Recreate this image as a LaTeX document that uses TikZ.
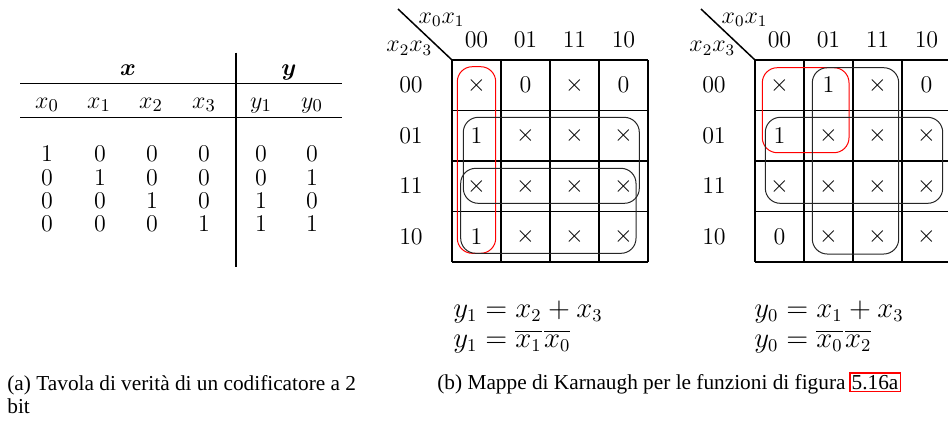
\documentclass[tikz,border=0pt]{standalone}
\usepackage{amsmath}
\usepackage{fontspec}
\newfontfamily\capfont{Liberation Serif}

% One Karnaugh map: #1 = name prefix, #2 = left edge of the grid, #3 = cell rows
\newcommand\kmapgrid[3]{%
  \begin{scope}[shift={(#2,60)}]
    \foreach \i in {0,...,4} {
      \draw[gridline] (\i*49,0) -- (\i*49,202);
      \draw[gridline] (0,\i*50.5) -- (196,\i*50.5);
    }
    \coordinate (#1-corner) at (0,0);
    \coordinate (#1-diag) at (-54,-51);
    \draw[gridline] (#1-diag) -- (#1-corner);
    \node[kmtxt, anchor=base west] (#1-top) at (-33.7,-36.7) {$x_0x_1$};
    \node[kmtxt, anchor=base west] (#1-side) at (-66,-8.3) {$x_2x_3$};
    \foreach \h [count=\k from 0] in {00,01,11,10} {
      \node[kmtxt] (#1-c\k) at (24.5+\k*49,-20) {$\h$};
      \node[kmtxt] (#1-r\k) at (-41,25.25+\k*50.5) {$\h$};
    }
    \foreach \row [count=\r from 0] in {#3} {
      \foreach \v [count=\c from 0] in \row
        \node[kmtxt] (#1-\r-\c) at (24.5+\c*49,25.25+\r*50.5) {$\v$};
    }
  \end{scope}}

% complemented variable
\newcommand\cmpl[1]{\overline{#1}\mkern1.5mu}

\begin{document}
\begin{tikzpicture}[x=0.5pt,y=-0.5pt,
  tabtxt/.style={font=\fontsize{12.5}{15}\selectfont, inner sep=0pt, anchor=base},
  kmtxt/.style={font=\fontsize{12}{14.4}\selectfont, inner sep=0pt},
  eqtxt/.style={font=\fontsize{13.35}{16}\selectfont, inner sep=0pt, anchor=base west},
  captxt/.style={font=\capfont\fontsize{10.65}{12.8}\selectfont, inner sep=0pt, anchor=base west},
  rule/.style={line width=0.65pt},
  gridline/.style={line width=0.75pt},
  grp/.style={draw=black!85, line width=0.5pt, rounded corners=7.5pt},
  redgrp/.style={draw=red, line width=0.5pt, rounded corners=7.5pt},
]
\useasboundingbox (0,0) rectangle (948,420);
\clip (0,0) rectangle (948,420);

% ---- truth table ----
\node[tabtxt] (hx) at (128,75) {$\boldsymbol{x}$};
\node[tabtxt] (hy) at (289,75) {$\boldsymbol{y}$};
\foreach \lab/\px [count=\i] in {x_0/47, x_1/99, x_2/151, x_3/204, y_1/261, y_0/312}
  \node[tabtxt] (lab\i) at (\px,108) {$\lab$};
\foreach \row [count=\r] in {{1,0,0,0,0,0},{0,1,0,0,0,1},{0,0,1,0,1,0},{0,0,0,1,1,1}} {
  \foreach \v [count=\c] in \row {
    \pgfmathsetmacro\px{{47,100,152,204,261,312}[\c-1]}
    \pgfmathsetmacro\py{161.7+23.3*(\r-1)}
    \node[tabtxt] (d\r-\c) at (\px,\py) {$\v$};
  }
}
\draw[rule] (20,83.3) -- (342,83.3);
\draw[rule] (20,117.3) -- (342,117.3);
\draw[rule] (236,52.7) -- (236,267);

% ---- Karnaugh maps ----
\kmapgrid{L}{452}{{\times,0,\times,0},{1,\times,\times,\times},{\times,\times,\times,\times},{1,\times,\times,\times}}
\kmapgrid{R}{755}{{\times,1,\times,0},{1,\times,\times,\times},{\times,\times,\times,\times},{0,\times,\times,\times}}

% groupings, map y1
\draw[redgrp] (457.3,66.7) rectangle (495.7,253.3);
\draw[grp] (463.3,117.3) rectangle (639.3,203.3);
\draw[grp] (460.7,168.3) rectangle (636,253.3);
% groupings, map y0
\draw[redgrp] (762.3,67.7) rectangle (849,152.7);
\draw[grp] (812.3,67.7) rectangle (898.7,254);
\draw[grp] (765.3,117.3) rectangle (942.7,203.3);

% ---- minimised expressions ----
\node[eqtxt] (eq1) at (453,317.5) {$y_1 = x_2 + x_3$};
\node[eqtxt] (eq2) at (453,347.5) {$y_1 = \cmpl{x_1}\cmpl{x_0}$};
\node[eqtxt] (eq3) at (754,317.5) {$y_0 = x_1 + x_3$};
\node[eqtxt] (eq4) at (754,347.5) {$y_0 = \cmpl{x_0}\cmpl{x_2}$};

% ---- captions ----
\node[captxt] (capa1) at (7,390.5) {(a) Tavola di verità di un codificatore a 2};
\node[captxt] (capa2) at (7,413) {bit};
\node[captxt] (capb) at (437,389) {(b) Mappe di Karnaugh per le funzioni di figura};
\node[captxt, draw=red, line width=0.8pt, inner sep=1pt] (figref) at ([xshift=1.5pt]capb.base east) {5.16a};
\end{tikzpicture}
\end{document}
